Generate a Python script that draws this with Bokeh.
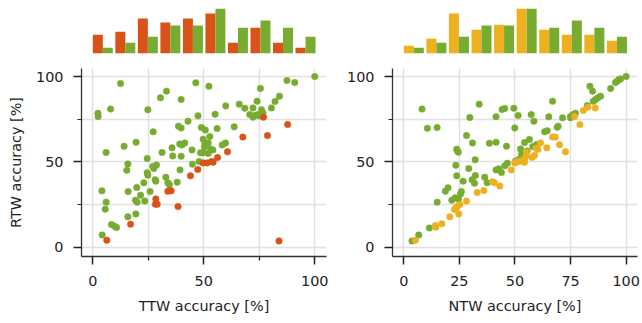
import numpy as np
from bokeh.plotting import figure
from bokeh.layouts import gridplot
from bokeh.models import FixedTicker, Range1d
from bokeh.embed import file_html
from bokeh.resources import INLINE

ORANGE = "#D95319"
GREEN = "#77AC30"
YELLOW = "#EDB120"
TXT = "#222222"
FONT = "DejaVu Sans"
FS = "14.4px"

# ---------------- data ----------------
# left panel: (TTW, RTW)
left_green = [(100, 100), (87.5, 97.7), (91, 96.5), (12.5, 95.9), (46.4, 96.3), (52.3, 94.3), (33.2, 91.4),
              (30.5, 87.5), (39.8, 86.5), (75.5, 93), (84.1, 88.5), (82.1, 85.4), (80.5, 81.6), (74, 85.5),
              (72.2, 81.6), (68.5, 81.4), (66, 83.8), (59.9, 82.8), (70.7, 77.7), (72.2, 76.2), (73.3, 77.3),
              (74.5, 77.7), (76, 80.5), (76.7, 78.7), (75, 77), (55.1, 77.9), (47.4, 77), (42.9, 73.8),
              (38.6, 70.9), (39.8, 69.9), (48.9, 70.1), (50.7, 68.6), (56, 69.5), (63.7, 70.5), (27.2, 67.6),
              (8, 80.9), (2.3, 78.5), (2.4, 76.6), (24.8, 80.5), (6, 55.5), (14.1, 59.2), (19.5, 61.5),
              (15.8, 48.8), (15.3, 45.1), (24.5, 52), (31.2, 55.5), (35.7, 58.2), (36, 53.5), (39.8, 53.3),
              (39.2, 60.5), (40.2, 59.9), (41.4, 61.1), (44.7, 57), (48.5, 55.3), (52.7, 64.8), (49.7, 63.3),
              (50.5, 60.9), (52, 61.1), (50.3, 58.8), (53, 57.6), (54.1, 57), (52, 54.9), (49.7, 55.3),
              (58.3, 59.9), (59.8, 61.1), (44.9, 48.6), (47.9, 50.2), (28.7, 48.2), (27.5, 46.1), (27, 47.3),
              (24.5, 43.6), (24.8, 42.2), (28.1, 39.5), (28.4, 38.7), (32.9, 41), (33.8, 37.7), (34.5, 36.7),
              (38, 38.1), (39.3, 45.3), (23, 37.7), (19.8, 35), (15.9, 32.6), (25.8, 32.6), (21.5, 30.5),
              (19.2, 27.5), (20, 26.4), (23.4, 27), (4.1, 33), (6, 26.4), (5.6, 22.3), (15.8, 17.8),
              (19.4, 19.5), (8.4, 13.3), (9.8, 12.3), (10.7, 11.5), (4.2, 7.2)]
left_orange = [(76.9, 76.2), (87.8, 71.9), (78.7, 65.4), (67.6, 64.5), (60.7, 55.9), (56.2, 52.5), (49.7, 49.4),
               (51.5, 49.4), (53.5, 50.2), (54.2, 49.8), (47.3, 45.5), (44, 41.8), (33.8, 32.8), (34.7, 33.2),
               (35.3, 33), (28.4, 28.3), (28.2, 25.2), (29, 25.2), (38.4, 23.8), (17, 13.5), (6.3, 4.1),
               (83.9, 3.7)]
# right panel: (NTW, RTW)
right_green = [(100, 100), (96.7, 98.2), (96, 97.3), (95.2, 96.5), (97.5, 98.6), (93, 93), (83.7, 94.3),
               (84.9, 91.4), (88.5, 88.5), (87.3, 87.5), (86.2, 86.5), (85.2, 85.5), (82.5, 83), (77.2, 78.5),
               (76.2, 77.7), (75, 76.6), (75, 75.8), (71.4, 75.8), (69.4, 70.9), (69, 70.3), (66.9, 85.5),
               (65.2, 76.4), (64.5, 68.2), (63.3, 67.6), (57.3, 77.7), (58.5, 73.8), (51.4, 77.1), (49.5, 81.4),
               (49.9, 69.9), (45.4, 81.3), (44.2, 80.7), (41.5, 76.4), (33.9, 83.8), (29.7, 76), (8.2, 80.9),
               (10.6, 69.7), (15, 70.1), (28.2, 65.4), (30.9, 61.1), (23.8, 57.4), (24.5, 55.7), (24, 56.6),
               (32.1, 51.2), (29.2, 46.1), (23.4, 48), (23.8, 41.8), (26.7, 38.7), (30.7, 39.5), (31.8, 37.5),
               (32.2, 42), (36.4, 41), (37.5, 37.7), (38.5, 60.9), (41.5, 61.5), (46.2, 59.2), (41.5, 45.3),
               (42.7, 45.9), (43.9, 43.8), (45.4, 47.7), (46.6, 49.2), (50.2, 50.4), (51.4, 51.2), (52.5, 57.6),
               (54.3, 61.3), (56.5, 63.1), (58, 59), (55.5, 56.3), (53.7, 52.7), (52.9, 54.3), (59.7, 60.2),
               (19.9, 34.8), (18.7, 32.8), (21.6, 27.5), (23.1, 28.9), (24.6, 28.1), (25.9, 32.6), (25.5, 31.1),
               (15, 26.4), (11.5, 11.3), (6.7, 7.2), (3.7, 3.7)]
right_yellow = [(5.2, 4.1), (14.2, 12.7), (14.4, 11.7), (17.1, 13.7), (20.7, 17.8), (24.7, 19.5), (22.8, 22.1),
                (24, 23.8), (25.2, 25), (23.4, 22.9), (28.2, 27), (33, 32), (36, 33.2), (39.9, 38.3),
                (40.8, 37.7), (43.2, 35.9), (48.3, 45.3), (49.9, 49.4), (51, 50), (52.5, 50.4), (53.3, 50.8),
                (54.3, 49.8), (53.7, 51), (54.4, 51.4), (55.2, 55.7), (54.9, 53.3), (57.7, 52.7), (58.8, 53.7),
                (59.5, 58), (60.3, 57.2), (61.5, 61.1), (64.3, 58.2), (66.9, 64.6), (68.1, 64.5), (70, 60),
                (72.7, 55.9), (76.8, 76.6), (79.2, 71.9), (80.7, 80.1), (82.8, 82), (86.1, 81.6)]

# marginal histograms (10 bins over accuracy)
hist_ttw = [3.34, 3.88, 6.21, 5.49, 6.21, 7.10, 1.91, 4.60, 1.91, 1.01]
hist_rtw = [1.01, 1.91, 2.99, 4.96, 4.96, 8.00, 4.60, 5.85, 4.60, 2.99]
hist_ntw = [1.37, 2.63, 7.10, 4.24, 5.13, 8.00, 4.24, 3.34, 3.34, 2.27]
bin_edges = np.linspace(0, 101.5, 11)

# ---------------- layout ----------------
LX = (-5.1, 105.3)
RX = (-5.08, 105.1)
YR = (-5.45, 104.7)
HIST_Y = (0, 8.0)
SC_H = 188
H_H = 45
FW = 245


def style_axes(p):
    for ax in p.axis:
        ax.axis_line_color = "#333333"
        ax.axis_line_width = 1.3
        ax.major_tick_line_color = "#222222"
        ax.minor_tick_line_color = "#222222"
        ax.major_tick_line_width = 1.5
        ax.minor_tick_line_width = 1.2
        ax.major_tick_out = 8
        ax.major_tick_in = 0
        ax.minor_tick_out = 4
        ax.minor_tick_in = 0
        ax.major_label_text_font = FONT
        ax.major_label_text_font_size = FS
        ax.major_label_text_color = TXT
        ax.axis_label_text_font = FONT
        ax.axis_label_text_font_size = FS
        ax.axis_label_text_font_style = "normal"
        ax.axis_label_text_color = TXT
        ax.axis_label_standoff = 9
    p.xaxis.major_label_standoff = 11
    p.yaxis.major_label_standoff = 10
    for g in p.grid:
        g.grid_line_color = "#e0e0e0"
        g.grid_line_width = 1.5
        g.ticker = FixedTicker(ticks=[0, 25, 50, 75, 100])
    p.outline_line_color = None
    p.background_fill_color = "white"
    p.border_fill_color = "white"


def scatter_fig(xr, bl, br, xlabel, ylabel, xticks, xminor):
    p = figure(frame_width=FW, frame_height=SC_H, x_range=Range1d(*xr), y_range=Range1d(*YR),
               output_backend="svg", toolbar_location=None,
               min_border_left=bl, min_border_right=br, min_border_top=0, min_border_bottom=66)
    p.xaxis.ticker = FixedTicker(ticks=xticks, minor_ticks=xminor)
    p.yaxis.ticker = FixedTicker(ticks=[0, 50, 100], minor_ticks=[25, 75])
    p.xaxis.axis_label = xlabel
    if ylabel:
        p.yaxis.axis_label = ylabel
    style_axes(p)
    return p


def hist_fig(xr, bl, br, a_vals, a_col, b_vals, b_col):
    p = figure(frame_width=FW, frame_height=H_H, x_range=Range1d(*xr), y_range=Range1d(*HIST_Y),
               output_backend="svg", toolbar_location=None, x_axis_location=None, y_axis_location=None,
               min_border_left=bl, min_border_right=br, min_border_top=8, min_border_bottom=15)
    p.grid.visible = False
    p.outline_line_color = None
    lefts = bin_edges[:-1]
    bw = 4.5
    p.quad(left=lefts, right=lefts + bw, bottom=0, top=a_vals, fill_color=a_col, line_color=None)
    p.quad(left=lefts + bw, right=lefts + 2 * bw, bottom=0, top=b_vals, fill_color=b_col, line_color=None)
    return p


def pts(p, data, col):
    xs = [d[0] for d in data]
    ys = [d[1] for d in data]
    p.scatter(xs, ys, size=6.5, fill_color=col, line_color=col, line_width=0.5)


h1 = hist_fig(LX, 81, 10, hist_ttw, ORANGE, hist_rtw, GREEN)
h2 = hist_fig(RX, 56, 5, hist_ntw, YELLOW, hist_rtw, GREEN)

s1 = scatter_fig(LX, 81, 10, "TTW accuracy [%]", "RTW accuracy [%]", [0, 50, 100], [25, 75])
pts(s1, left_green, GREEN)
pts(s1, left_orange, ORANGE)

s2 = scatter_fig(RX, 56, 5, "NTW accuracy [%]", None, [0, 25, 50, 75, 100], [])
pts(s2, right_green, GREEN)
pts(s2, right_yellow, YELLOW)

grid = gridplot([[h1, h2], [s1, s2]], toolbar_location=None)

open("out.html", "w").write(file_html(grid, INLINE))
